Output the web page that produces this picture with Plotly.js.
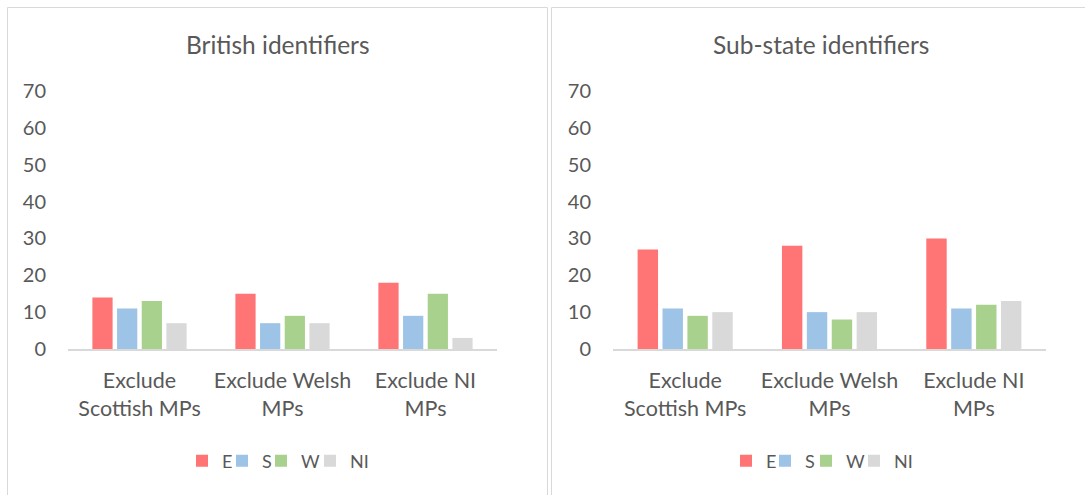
<!DOCTYPE html>
<html>
<head>
<meta charset="utf-8">
<script src="https://cdn.plot.ly/plotly-3.0.1.min.js"></script>
<style>
html,body{margin:0;padding:0;background:#fff;}
#chart{width:1085px;height:495px;}
</style>
</head>
<body>
<div id="chart"></div>
<script>
// ---- data ----
const categories = ["Exclude<br>Scottish MPs", "Exclude Welsh<br>MPs", "Exclude NI<br>MPs"];
const seriesNames = ["E", "S", "W", "NI"];
const britishE  = [14, 15, 18];
const britishS  = [11, 7, 9];
const britishW  = [13, 9, 15];
const britishNI = [7, 7, 3];
const subStateE  = [27, 28, 30];
const subStateS  = [11, 10, 11];
const subStateW  = [9, 8, 12];
const subStateNI = [10, 10, 13];
const yTicks = [0, 10, 20, 30, 40, 50, 60, 70];
const panelTitles = ["British identifiers", "Sub-state identifiers"];

// ---- styling ----
const colors = ["#FF7575", "#9DC3E6", "#A9D18E", "#D9D9D9"];
const FONT = "Lato, 'Open Sans', sans-serif";
const TXT = "#595959";
const W = 1085, H = 495;
const px = x => x / W;
const py = y => 1 - y / H;

const leftVals = [britishE, britishS, britishW, britishNI];
const rightVals = [subStateE, subStateS, subStateW, subStateNI];
// legend positions (px) per panel
const legLeftX = [182, 222, 261, 310];
const legRightX = [726, 765, 806, 854];

const legName = k => (k === 1 ? "legend" : "legend" + k);

const traces = [];
leftVals.forEach((v, i) => traces.push({
  type: "bar", x: categories, y: v, name: seriesNames[i],
  marker: {color: colors[i], line: {width: 0}},
  xaxis: "x", yaxis: "y", legend: legName(i + 1), hoverinfo: "y"
}));
rightVals.forEach((v, i) => traces.push({
  type: "bar", x: categories, y: v, name: seriesNames[i],
  marker: {color: colors[i], line: {width: 0}},
  xaxis: "x2", yaxis: "y2", legend: legName(i + 5), hoverinfo: "y"
}));

const yDomain = [py(349), py(91)];
const xAxisBase = {
  type: "category", showgrid: false, zeroline: false,
  showline: true, linecolor: "#D9D9D9", linewidth: 1.5,
  ticks: "", tickfont: {family: FONT, size: 21.5, color: TXT},
  ticklabelstandoff: 12, fixedrange: true
};
const yAxisBase = {
  range: [0, 70], tickvals: yTicks, showgrid: false, zeroline: false,
  showline: false, ticks: "", tickfont: {family: FONT, size: 20, color: TXT},
  ticklabelstandoff: 21, domain: yDomain, fixedrange: true
};
const legendBase = {
  orientation: "h", xanchor: "left", yanchor: "middle", y: py(461),
  font: {family: FONT, size: 18, color: TXT}, itemwidth: 30,
  bgcolor: "rgba(0,0,0,0)", borderwidth: 0
};

const layout = {
  width: W, height: H,
  margin: {l: 0, r: 0, t: 0, b: 0},
  paper_bgcolor: "#fff", plot_bgcolor: "#fff",
  barmode: "group", bargap: 0.31, bargroupgap: 0.18,
  showlegend: true,
  xaxis: Object.assign({}, xAxisBase, {domain: [px(68), px(497)], anchor: "y"}),
  yaxis: Object.assign({}, yAxisBase, {anchor: "x"}),
  xaxis2: Object.assign({}, xAxisBase, {domain: [px(613), px(1046)], anchor: "y2"}),
  yaxis2: Object.assign({}, yAxisBase, {anchor: "x2"}),
  shapes: [
    {type: "rect", xref: "paper", yref: "paper", x0: px(7.5), x1: px(547.5), y0: py(500), y1: py(7.5),
     line: {color: "#D9D9D9", width: 1}},
    {type: "rect", xref: "paper", yref: "paper", x0: px(551.5), x1: px(1095), y0: py(500), y1: py(7.5),
     line: {color: "#D9D9D9", width: 1}}
  ],
  annotations: [
    {text: panelTitles[0], xref: "paper", yref: "paper", x: px(277.5), y: py(44),
     xanchor: "center", yanchor: "middle", showarrow: false,
     font: {family: FONT, size: 24.5, color: TXT}},
    {text: panelTitles[1], xref: "paper", yref: "paper", x: px(821), y: py(44),
     xanchor: "center", yanchor: "middle", showarrow: false,
     font: {family: FONT, size: 24.5, color: TXT}}
  ]
};
legLeftX.forEach((x, i) => { layout[legName(i + 1)] = Object.assign({}, legendBase, {x: px(x)}); });
legRightX.forEach((x, i) => { layout[legName(i + 5)] = Object.assign({}, legendBase, {x: px(x)}); });

Plotly.newPlot("chart", traces, layout, {displayModeBar: false, staticPlot: true});
</script>
</body>
</html>
